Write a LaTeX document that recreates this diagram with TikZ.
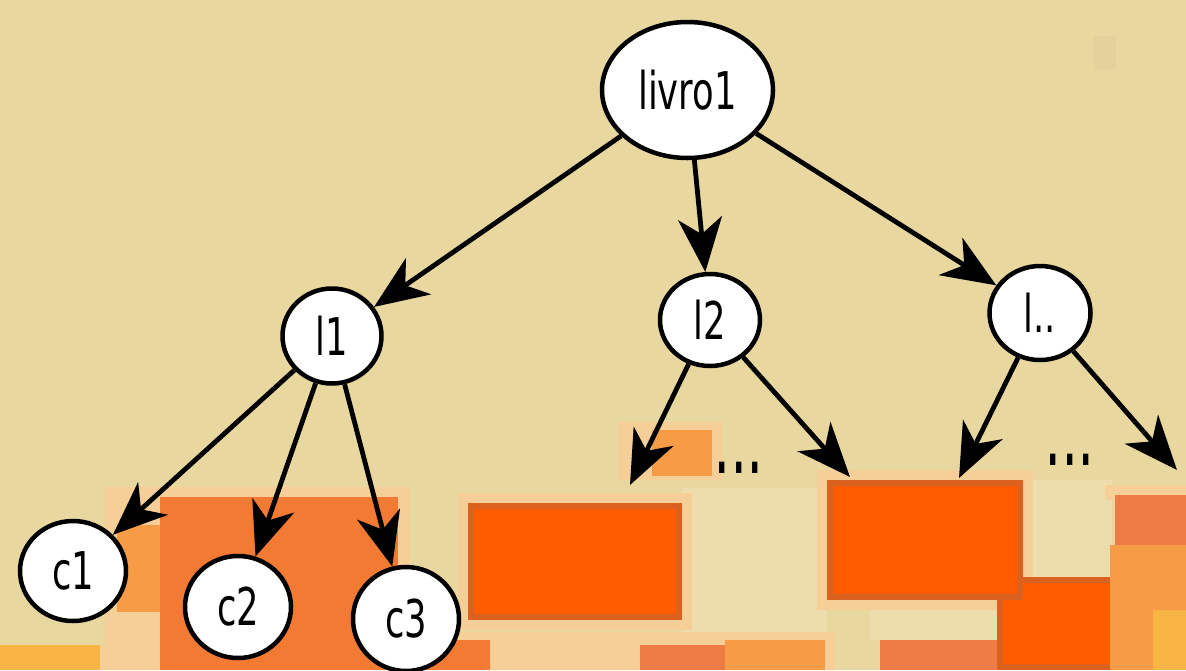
\documentclass[tikz,border=0pt]{standalone}
\usepackage{fontspec}
\usetikzlibrary{arrows.meta,shapes.geometric}
\newfontfamily\lblfont[FakeStretch=0.68]{DejaVu Sans}
\newfontfamily\dotfont[FakeStretch=0.5]{DejaVu Sans}

\definecolor{paper}{HTML}{E9D7A0}
\definecolor{paperpale}{HTML}{EEDDAC}
\definecolor{smudge}{HTML}{E2CF9A}
\definecolor{peach}{HTML}{F6CE98}
\definecolor{deepor}{HTML}{FF5C00}
\definecolor{deepedge}{HTML}{DA621E}
\definecolor{midor}{HTML}{F37A32}
\definecolor{softor}{HTML}{F69C46}
\definecolor{amber}{HTML}{F8B444}
\definecolor{rust}{HTML}{EE7C46}

\tikzset{
  bubble/.style={ellipse, draw=black, fill=white, line width=4.5pt, inner sep=0pt,
    font=\lblfont\fontsize{52}{60}\selectfont},
  link/.style={line width=4.8pt, -{Stealth[length=54pt,width=44pt,inset=16pt]}},
  etc/.style={font=\dotfont\bfseries\fontsize{60}{60}\selectfont, inner sep=0pt}
}

\begin{document}
\begin{tikzpicture}[x=1pt, y=-1pt]
  \useasboundingbox (0,0) rectangle (1186,670);
  \clip (0,0) rectangle (1186,670);

  % paper background
  \fill[paper] (0,0) rectangle (1186,670);
  \fill[smudge, opacity=0.6] (1094,36) rectangle (1116,70);
  \fill[paperpale] (682,488) rectangle (827,640);
  \fill[paperpale] (1023,480) rectangle (1112,577);
  \fill[paperpale] (870,600) rectangle (997,640);

  % orange patches along the bottom edge
  \fill[peach] (105,487) rectangle (410,670);
  \fill[softor] (117,525) rectangle (165,612);
  \fill[midor] (160,497) rectangle (398,670);
  \fill[amber] (0,645) rectangle (100,670);
  \fill[peach] (100,645) rectangle (150,670);

  \fill[peach] (458,493) rectangle (692,630);
  \fill[deepor] (468,503) rectangle (682,620);
  \draw[deepedge, line width=6pt] (471,506) rectangle (679,617);

  \fill[peach] (398,632) rectangle (835,670);
  \fill[midor] (398,640) rectangle (490,670);
  \fill[rust] (640,645) rectangle (725,670);
  \fill[softor] (725,640) rectangle (825,670);

  \fill[peach] (618,422) rectangle (722,480);
  \fill[softor] (652,430) rectangle (712,476);

  \fill[peach] (817,470) rectangle (1033,610);
  \fill[rust] (880,640) rectangle (997,670);
  \fill[deepor] (997,577) rectangle (1153,670);
  \draw[deepedge, line width=6pt] (1000,580) rectangle (1150,667);
  \fill[deepor] (827,480) rectangle (1023,600);
  \draw[deepedge, line width=6pt] (830,483) rectangle (1020,597);

  \fill[peach] (1105,485) rectangle (1186,500);
  \fill[rust] (1115,495) rectangle (1186,545);
  \fill[softor] (1110,545) rectangle (1186,670);
  \fill[amber] (1153,610) rectangle (1186,670);

  % tree nodes
  \node[bubble, minimum width=171pt, minimum height=136pt] (livro) at (687.5,90) {livro1};
  \node[bubble, minimum width=99pt, minimum height=95pt] (l1) at (332,336) {l1};
  \node[bubble, minimum width=100pt, minimum height=92pt] (l2) at (710,320) {l2};
  \node[bubble, minimum width=101pt, minimum height=94pt] (ln) at (1040,313) {l..};
  \node[bubble, minimum width=106pt, minimum height=100pt] (c1) at (73,571) {c1};
  \node[bubble, minimum width=106pt, minimum height=102pt] (c2) at (238,607) {c2};
  \node[bubble, minimum width=106pt, minimum height=104pt] (c3) at (406,619) {c3};

  % open ends of the lower branches
  \coordinate (a1) at (630,485);
  \coordinate (a2) at (850,477);
  \coordinate (b1) at (959,478);
  \coordinate (b2) at (1177,470);

  \node[etc] (more2) at (739,468) {.\kern5pt.\kern5pt.};
  \node[etc] (moren) at (1070,460) {.\kern5pt.\kern5pt.};

  % connectors
  \draw[link] (livro) -- (l1);
  \draw[link] (livro) -- (l2);
  \draw[link] (livro) -- (ln);
  \draw[link] (l1) -- (c1);
  \draw[link] (l1) -- (c2);
  \draw[link] (l1) -- (c3);
  \draw[link] (l2) -- (a1);
  \draw[link] (l2) -- (a2);
  \draw[link] (ln) -- (b1);
  \draw[link] (ln) -- (b2);
\end{tikzpicture}
\end{document}
